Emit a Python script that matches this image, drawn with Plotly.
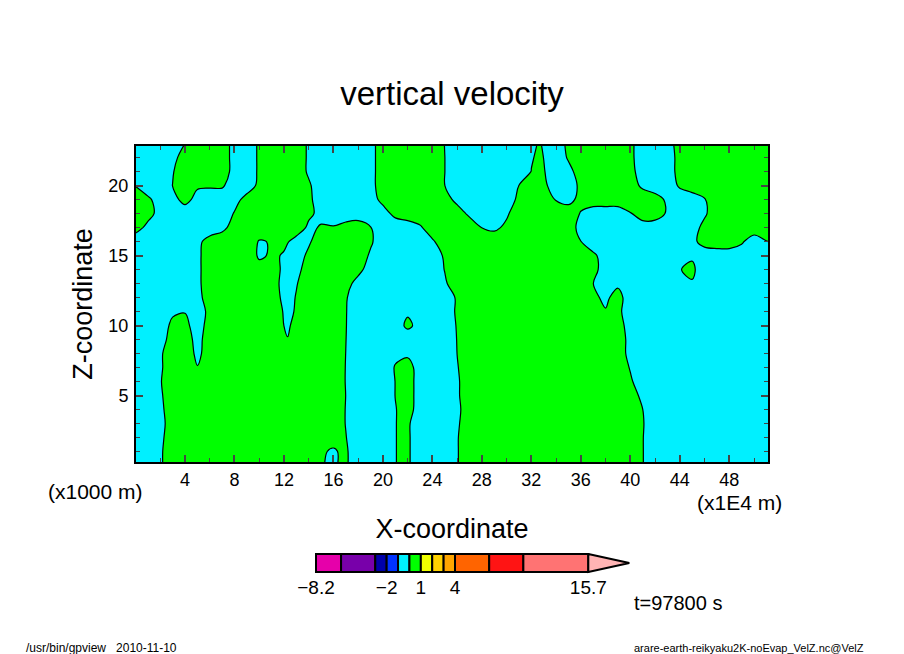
# vertical velocity cross section (gpview style), Plotly version
import plotly.graph_objects as go

# short names used in the rows below: well inside the green / cyan band
g = .9
c = -.9

# grid nodes (x in 1E4 m, z in 1000 m)
x_nodes = [0, 1, 2, 3, 4, 5, 6, 7, 8, 9, 10, 11, 12, 12.3,
           13, 14, 15, 16, 17, 18, 19, 20, 21, 22, 23, 24, 25, 26, 27, 28, 29, 30, 31, 32, 32.5,
           33, 34, 35, 36, 37, 38, 39, 40, 41, 42, 43, 44, 45, 46, 47, 48, 49, 50, 51, 52]
z_nodes = list(range(24))

# field, one row per z node
velz = [
    [c,c,-.2,.8,g,g,g,g,g,g,g,g,g, g, g,g,.04,-.1,.2,c,c,c,-.02,.2,-.8,c,c,-.1,g,g,g,g,g,g, g, g,g,g,g,g,g,g,g,.05,c,c,c,c,c,c,c,c,c,c,c],
    [c,c,-.2,.8,g,g,g,g,g,g,g,g,g, g, g,g,.1,-.1,.2,c,c,c,-.02,.2,-.8,c,c,-.1,g,g,g,g,g,g, g, g,g,g,g,g,g,g,g,.05,c,c,c,c,c,c,c,c,c,c,c],
    [c,c,-.3,.7,g,g,g,g,g,g,g,g,g, g, g,g,g,.3,.05,c,c,c,-.02,.2,-.8,c,c,-.1,g,g,g,g,g,g, g, g,g,g,g,g,g,g,g,.05,c,c,c,c,c,c,c,c,c,c,c],
    [c,c,-.4,.6,g,g,g,g,g,g,g,g,g, g, g,g,g,g,-.05,c,c,c,-.02,.2,-.8,c,c,-.2,.8,g,g,g,g,g, g, g,g,g,g,g,g,g,g,.1,c,c,c,c,c,c,c,c,c,c,c],
    [c,c,-.3,.7,g,g,g,g,g,g,g,g,g, g, g,g,g,g,-.05,c,c,c,-.05,.45,-.5,c,c,-.3,.7,g,g,g,g,g, g, g,g,g,g,g,g,g,g,.01,c,c,c,c,c,c,c,c,c,c,c],
    [c,c,-.2,.8,g,g,g,g,g,g,g,g,g, g, g,g,g,g,-.01,c,c,c,.02,.5,-.5,c,c,-.2,.8,g,g,g,g,g, g, g,g,g,g,g,g,g,.65,-.35,c,c,c,c,c,c,c,c,c,c,c],
    [c,c,-.1,g,g,g,g,g,g,g,g,g,g, g, g,g,g,g,-.05,c,c,c,.02,.5,-.5,c,c,-.2,.8,g,g,g,g,g, g, g,g,g,g,g,g,g,.2,-.8,c,c,c,c,c,c,c,c,c,c,c],
    [c,c,-.2,.8,g,.05,g,g,g,g,g,g,g, g, g,g,g,g,-.04,c,c,c,.1,.47,-.53,c,c,-.1,g,g,g,g,g,g, g, g,g,g,g,g,g,g,-.1,c,c,c,c,c,c,c,c,c,c,c,c],
    [c,c,-.2,.8,.8,-.3,.6,g,g,g,g,g,g, g, g,g,g,g,-.01,c,c,c,-.3,-.2,c,c,c,.01,g,g,g,g,g,g, g, g,g,g,g,g,g,.63,-.37,c,c,c,c,c,c,c,c,c,c,c,c],
    [c,c,-.5,.5,.6,-.4,.6,g,g,g,g,g,g, .1, g,g,g,g,.02,c,c,c,c,c,c,c,c,.04,g,g,g,g,g,g, g, g,g,g,g,g,g,.63,-.37,c,c,c,c,c,c,c,c,c,c,c,c],
    [c,c,-.7,.3,.35,-.6,.5,g,g,g,g,g,-.01, -.4, g,g,g,g,.05,c,c,c,-.7,.3,-.45,c,c,.1,g,g,g,g,g,g, g, g,g,g,g,g,g,.5,-.5,c,c,c,c,c,c,c,c,c,c,c,c],
    [c,c,c,-.2,-.05,-.6,.3,g,g,g,g,g,-.1, -.5, .2,g,g,g,.07,c,c,c,c,-.2,c,c,-.8,.2,g,g,g,g,g,g, g, g,g,g,g,g,.1,.3,-.7,c,c,c,c,c,c,c,c,c,c,c,c],
    [c,c,c,c,c,-.4,.6,g,g,g,g,.7,-.3, -.6, .1,g,g,g,.13,c,c,c,c,c,c,c,c,.2,g,g,g,g,g,g, g, g,g,g,g,.3,-.3,.6,c,c,c,c,c,c,c,c,c,c,c,c,c],
    [c,c,c,c,c,-.3,.7,g,g,g,g,.6,-.4, -.7, -.1,g,g,g,.5,-.5,c,c,c,c,c,c,-.2,.8,g,g,g,g,g,g, g, g,g,g,g,.01,c,-.3,c,c,c,c,c,-.13,c,c,c,c,c,c,c],
    [c,c,c,c,c,-.3,.7,g,g,g,.5,.7,-.3, -.7, -.4,.6,g,g,g,.4,-.6,c,c,c,c,c,.05,g,g,g,g,g,g,g, g, g,g,g,g,.4,-.6,c,c,c,c,c,-.05,.3,c,c,c,c,c,c,c],
    [c,c,c,c,c,-.3,.7,g,g,g,-.2,.15,-.07, -.6, -.7,.3,g,g,g,.8,-.2,c,c,c,c,-.8,.2,g,g,g,g,g,g,g, g, g,g,g,g,.3,-.7,c,c,c,c,c,c,-.2,c,c,c,c,c,c,c],
    [c,c,c,c,c,-.4,.6,g,g,g,-.1,.07,.15, .1, -.6,-.2,.8,g,g,g,.2,-.8,c,c,c,-.2,.8,g,g,g,g,g,g,g, g, g,g,g,.02,c,c,c,c,c,c,c,c,-.4,.6,g,g,.2,-.8,-.05,.3],
    [.6,-.4,c,c,c,c,c,-.4,.6,g,g,g,g, g, g,-.3,.13,.04,.2,.3,.05,c,c,c,-.2,.8,g,g,g,-.02,-.3,.3,g,g, g, g,g,.6,-.4,c,c,c,c,c,c,c,c,-.6,.4,g,g,g,g,g,g],
    [g,.5,-.5,c,c,c,c,c,.1,g,g,g,g, g, g,.3,-.4,-.3,-.3,-.3,-.6,-.6,.4,g,g,g,g,.7,-.3,c,c,-.2,.8,g, g, g,g,g,-.1,c,c,c,-.1,g,.8,-.2,c,c,-.2,.8,g,g,g,g,g],
    [g,.3,-.7,-.5,.5,-.5,c,c,-.5,.5,g,g,g, g, g,.3,-.7,c,c,c,-.6,.4,g,g,g,g,.6,-.4,c,c,c,-.7,.3,g, g, g,-.1,-.5,.5,g,g,g,g,g,.7,-.3,c,c,-.1,g,g,g,g,g,g],
    [-.05,c,c,.02,g,.2,.2,.2,-.8,-.7,.3,g,g, g, g,.2,-.8,c,c,c,-.4,.6,g,g,g,g,.01,c,c,c,c,c,.02,g, g, .3,-.7,-.7,.3,g,g,g,.7,-.3,c,-.8,.2,g,g,g,g,g,g,g,g],
    [c,c,c,-.1,g,g,g,.6,-.4,-.8,.2,g,g, g, .8,-.2,c,c,c,c,-.4,.6,g,g,g,g,.01,c,c,c,c,c,c,.03, .3, .1,c,-.4,.6,g,g,g,.4,-.6,c,-.6,.4,g,g,g,g,g,g,g,g],
    [c,c,c,-.4,.6,g,g,.6,-.4,-.8,.2,g,g, g, .8,-.2,c,c,c,c,-.4,.6,g,g,g,g,.01,c,c,c,c,c,c,-.1, .15, -.01,-.85,.15,g,g,g,g,.3,-.7,c,-.6,.4,g,g,g,g,g,g,g,g],
    [c,c,c,c,.01,g,g,.6,-.4,-.8,.2,g,g, g, .8,-.2,c,c,c,c,-.4,.6,g,g,g,g,-.03,c,c,c,c,c,c,-.5, .03, -.02,-.7,.3,g,g,g,g,.3,-.7,c,-.5,.5,g,g,g,g,g,g,g,g],
]

x_ticks = [4, 8, 12, 16, 20, 24, 28, 32, 36, 40, 44, 48]
y_ticks = [5, 10, 15, 20]

# tone bar below the plot
bar_levels = [-8.2, -6, -3, -2, -1, 0, 1, 2, 3, 4, 7, 10, 15.7]
bar_colors = ['#e600aa', '#7800aa', '#0000aa', '#0032ff', '#00f0ff', '#00ff00',
              '#f0ff00', '#ffd200', '#ffa500', '#ff6400', '#ff1414', '#ff7373']
bar_ticks = [-8.2, -2, 1, 4, 15.7]
bar_labels = ['−8.2', '−2', '1', '4', '15.7']
bar_tip = 19.3

font = 'Liberation Sans'

fig = go.Figure()

fig.add_trace(go.Contour(x=x_nodes, y=z_nodes, z=velz,
                         zmin=-1, zmax=1,
                         contours=dict(start=-1, end=1, size=1, coloring='fill'),
                         colorscale=[[0, '#00f0ff'], [.5, '#00f0ff'], [.5, '#00ff00'], [1, '#00ff00']],
                         line=dict(color='black', width=1.2, smoothing=1),
                         showscale=False))

for i in range(len(bar_colors)):
    fig.add_trace(go.Bar(x=[bar_levels[i + 1] - bar_levels[i]], base=bar_levels[i], y=[0],
                         orientation='h', width=1,
                         marker=dict(color=bar_colors[i], line=dict(color='black', width=2)),
                         xaxis='x2', yaxis='y2', showlegend=False))

fig.add_trace(go.Scatter(x=[bar_levels[-1], bar_tip, bar_levels[-1], bar_levels[-1]], y=[.5, 0, -.5, .5],
                         mode='lines', fill='toself', fillcolor='#ffb4b4',
                         line=dict(color='black', width=2),
                         xaxis='x2', yaxis='y2', showlegend=False))

fig.update_layout(width=904, height=654, margin=dict(l=0, r=0, t=0, b=0),
                  paper_bgcolor='white', plot_bgcolor='white',
                  font=dict(family=font, color='black'),
                  showlegend=False, barmode='overlay',
                  title=dict(text='vertical velocity', x=.5, xanchor='center', y=1 - 93 / 654, yanchor='middle',
                             font=dict(size=33)),
                  xaxis=dict(domain=[136 / 904, 768 / 904], range=[0.04, 51.13], automargin=False,
                             tickvals=x_ticks, tickfont=dict(size=18),
                             ticks='inside', ticklen=7, tickwidth=2,
                             minor=dict(dtick=2, tick0=0, ticks='inside', ticklen=4, tickwidth=1, showgrid=False),
                             showline=True, linewidth=2, linecolor='black', mirror='allticks',
                             showgrid=False, zeroline=False,
                             title=dict(text='X-coordinate', font=dict(size=27), standoff=31)),
                  yaxis=dict(domain=[1 - 462 / 654, 1 - 146 / 654], range=[.25, 22.83], automargin=False,
                             tickvals=y_ticks, tickfont=dict(size=18),
                             ticks='inside', ticklen=7, tickwidth=2, ticklabelstandoff=2,
                             minor=dict(dtick=1, tick0=0, ticks='inside', ticklen=4, tickwidth=1, showgrid=False),
                             showline=True, linewidth=2, linecolor='black', mirror='allticks',
                             showgrid=False, zeroline=False,
                             title=dict(text='Z-coordinate', font=dict(size=27), standoff=8)),
                  xaxis2=dict(domain=[312.6 / 904, 631.6 / 904], range=[-8.5, 19.5], anchor='y2', automargin=False,
                              tickvals=bar_ticks, ticktext=bar_labels, tickfont=dict(size=19),
                              ticks='',
                              showline=False, showgrid=False, zeroline=False),
                  yaxis2=dict(domain=[1 - 573.8 / 654, 1 - 552.2 / 654], range=[-.6, .6], anchor='x2',
                              visible=False))

# unit labels and file info
notes = [('(x1000 m)', 95.5, 491, 21),
         ('(x1E4 m)', 739, 502, 21),
         ('t=97800 s', 678, 603, 20),
         ('/usr/bin/gpview   2010-11-10', 101, 648, 12),
         ('arare-earth-reikyaku2K-noEvap_VelZ.nc@VelZ', 749, 648, 11)]
for text, px, py, size in notes:
    fig.add_annotation(text=text, x=px / 904, y=1 - py / 654, xref='paper', yref='paper',
                       xanchor='center', yanchor='middle', showarrow=False, font=dict(size=size))

fig.write_html("out.html", config={'displayModeBar': False}, post_script="document.body.style.margin='0';")
